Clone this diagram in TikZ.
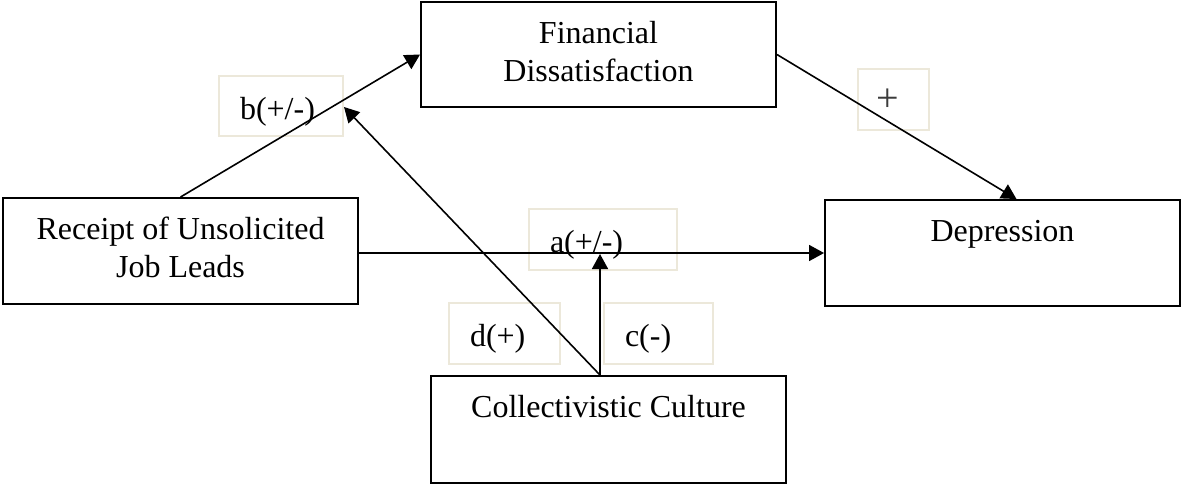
\documentclass[tikz,border=0pt]{standalone}
\usepackage{fontspec}
\setmainfont{Liberation Serif}
\usetikzlibrary{arrows.meta,calc}
\definecolor{lblborder}{RGB}{236,232,218}
\definecolor{plusgray}{RGB}{60,60,60}
\begin{document}
\begin{tikzpicture}[x=1pt,y=-1pt,
  box/.style={draw=black, line width=1.9pt, inner sep=0pt, minimum width=355pt},
  boxtext/.style={inner sep=0pt, align=center, font=\fontsize{32}{38}\selectfont},
  lbl/.style={draw=lblborder, line width=1.2pt, inner xsep=21pt, inner ysep=0pt,
    align=left, text height=40pt, text depth=14pt,
    font=\fontsize{32}{38}\selectfont},
  lblc/.style={draw=lblborder, line width=1.2pt, inner sep=0pt, align=center,
    font=\fontsize{42}{46}\selectfont},
  arr/.style={line width=1.6pt, -{Triangle[length=15pt,width=16pt]}}]
\useasboundingbox (0,0) rectangle (1181,485);

% main boxes
\node[box, minimum height=105pt] (fin) at (598.5,54.5) {};
\node[box, minimum height=106pt] (rec) at (180.5,251) {};
\node[box, minimum height=106pt] (dep) at (1002.5,253) {};
\node[box, minimum height=107pt] (col) at (608.5,429.5) {};

\node[boxtext] (fintxt) at (598.5,51.5) {Financial\\Dissatisfaction};
\node[boxtext] (rectxt) at (180.5,247.5) {Receipt of Unsolicited\\Job Leads};
\node[boxtext, anchor=base] (deptxt) at (1002.5,241) {Depression};
\node[boxtext, anchor=base] (coltxt) at (608.5,417) {Collectivistic Culture};

% label boxes
\node[lbl, minimum width=124pt, minimum height=60pt, text width=82pt] (lb) at (281,106) {b(+/-)};
\node[lblc, minimum width=71pt, minimum height=61pt] (lp) at (893.5,99.5) {};
\node[inner sep=0pt, text=plusgray, font=\fontsize{40}{44}\selectfont] (lptxt) at (888,100) {+};
\node[lbl, minimum width=148pt, minimum height=61pt, text width=106pt] (la) at (603,239.5) {a(+/-)};
\node[lbl, minimum width=111pt, minimum height=61pt, text width=69pt] (ld) at (504.5,333.5) {d(+)};
\node[lbl, minimum width=109pt, minimum height=61pt, text width=67pt] (lc) at (658.5,333.5) {c(-)};

% connectors
\coordinate (cbase) at ([xshift=-8.5pt]col.north);
\coordinate (atip) at (600,254);
\coordinate (btip) at (344,107);

\draw[arr] (rec.north) -- (fin.west);
\draw[arr] (fin.east) -- ([xshift=14pt]dep.north);
\draw[arr] (rec.east |- dep.west) -- (dep.west);
\draw[arr] (cbase) -- (atip);
\draw[arr] (cbase) -- (btip);
\end{tikzpicture}
\end{document}
